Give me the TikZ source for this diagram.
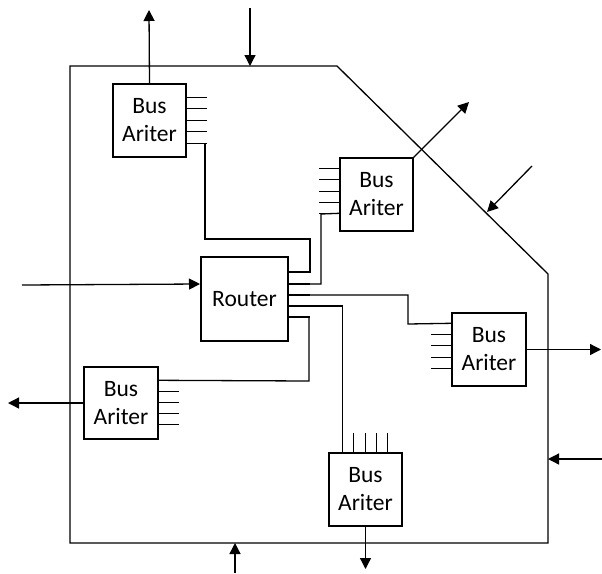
\documentclass[tikz,border=0pt]{standalone}
\usepackage{fontspec}
\setmainfont{Carlito}
\usetikzlibrary{arrows.meta,calc}
\begin{document}
\begin{tikzpicture}[x=1pt,y=-1pt,
  line/.style={line width=1.3pt},
  busbox/.style={draw, line width=1.4pt, minimum width=73pt, minimum height=73pt, inner sep=0pt, align=center, font=\fontsize{23.5}{28}\selectfont},
  routerbox/.style={draw, line width=2pt, minimum width=87pt, minimum height=84pt, inner sep=0pt, font=\fontsize{23.5}{28}\selectfont},
  arr/.style={line width=1.3pt, -{Triangle[length=11pt,width=11pt]}}]
\useasboundingbox (0,0) rectangle (602,573);

% outer boundary
\coordinate (c1) at (70,66);
\coordinate (c2) at (337,66);
\coordinate (c3) at (548,274);
\coordinate (c4) at (548,543);
\coordinate (c5) at (70,543);
\draw[line] (c1) -- (c2) -- (c3) -- (c4) -- (c5) -- cycle;

% nodes
\node[routerbox] (r) at (244.5,299) {Router};
\node[busbox] (tl) at (149.5,120.5) {Bus\\Ariter};
\node[busbox] (tr) at (376.5,194.5) {Bus\\Ariter};
\node[busbox, minimum width=74pt] (rb) at (489,349.5) {Bus\\Ariter};
\node[busbox, minimum width=74pt, minimum height=72pt] (lb) at (121,403) {Bus\\Ariter};
\node[busbox] (bb) at (365.5,489.5) {Bus\\Ariter};

% stubs
\foreach \o [count=\i] in {14,25.5,37,48.5,60}
  \draw[line] ($(tl.north east)+(0,\o)$) coordinate (tl\i) -- ++(20,0);
\foreach \o [count=\i] in {11,22.5,34,45,56}
  \draw[line] ($(tr.north west)+(0,\o)$) coordinate (tr\i) -- ++(-20,0);
\foreach \o [count=\i] in {11,22,33,45,56}
  \draw[line] ($(rb.north west)+(0,\o)$) coordinate (rb\i) -- ++(-20,0);
\foreach \o [count=\i] in {14,25,36,47,58}
  \draw[line] ($(lb.north east)+(0,\o)$) coordinate (lb\i) -- ++(20,0);
\foreach \o [count=\i] in {14,25,37,48,59}
  \draw[line] ($(bb.north west)+(\o,0)$) coordinate (bb\i) -- ++(0,-19);
\foreach \o [count=\i] in {16,28,39,50,61}
  \draw[line] ($(r.north east)+(0,\o)$) coordinate (rs\i) -- ++(21,0);

% connectors
\draw[line] (rs1) -- ++(21,0) |- (205,239) |- (tl5);
\draw[line] (rs2) -| (321,214) -- (tr5);
\draw[line] (rs3) -| (408,324) -- (rb1);
\draw[line] (rs4) -| (bb1);
\draw[line] (rs5) -| (309,381) -- (lb1);

% arrows
\coordinate (a1) at (149,10);
\draw[arr] (tl.north) -- (a1);
\coordinate (a2s) at (250,8);
\coordinate (a2e) at (250,66);
\draw[arr] (a2s) -- (a2e);
\coordinate (a3) at (469,102);
\draw[arr] (tr.north east) -- (a3);
\coordinate (a4s) at (532,166);
\coordinate (a4e) at (487,212);
\draw[arr] (a4s) -- (a4e);
\coordinate (a5) at (22,285);
\draw[arr] (a5) -- ($(r.north west)+(0,28)$);
\coordinate (a6) at (601,349.5);
\draw[arr] (rb.east) -- (a6);
\coordinate (a7s) at (602,459);
\coordinate (a7e) at (548,459);
\draw[arr] (a7s) -- (a7e);
\coordinate (a8) at (365.5,569);
\draw[arr] (bb.south) -- (a8);
\coordinate (a9s) at (235,573);
\coordinate (a9e) at (235,543);
\draw[arr] (a9s) -- (a9e);
\coordinate (a10) at (8,403);
\draw[arr] (lb.west) -- (a10);
\end{tikzpicture}
\end{document}
